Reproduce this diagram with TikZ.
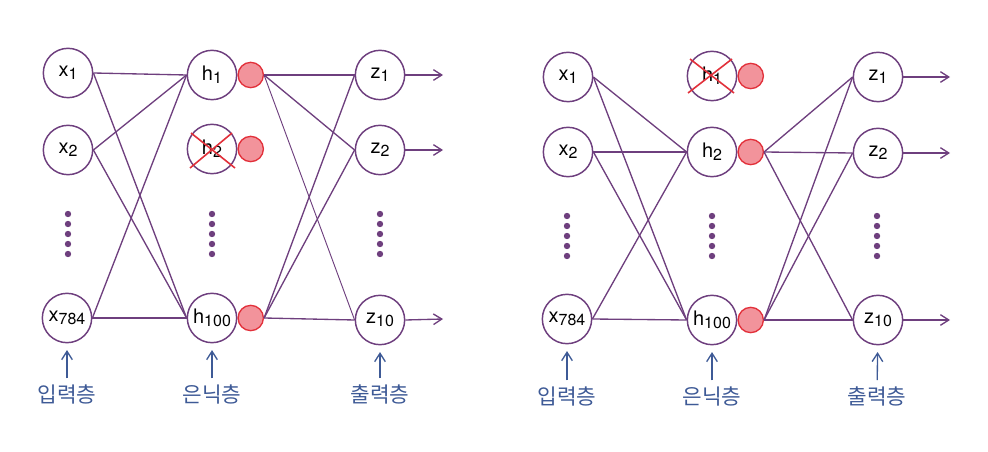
\documentclass[tikz,border=0pt]{standalone}
\usepackage{fontspec}
\setmainfont{TeX Gyre Heros}
\newfontfamily\kofont{Noto Sans CJK KR}
\usepackage{xcolor}
\usepackage{tikz}
\usetikzlibrary{arrows.meta,positioning}

\definecolor{netline}{HTML}{6E3F7E}
\definecolor{dropfill}{HTML}{F2939B}
\definecolor{dropedge}{HTML}{E2303A}
\definecolor{lblblue}{HTML}{3E5A96}

\newcommand{\unitsub}[2]{#1{\fontsize{12}{14}\selectfont\raisebox{-0.35ex}{#2}}}

\begin{document}
\begin{tikzpicture}[
  x=0.75pt, y=-0.75pt,
  font=\fontsize{15}{17}\selectfont,
  unit/.style={draw=netline, line width=1.1pt, circle, minimum size=37pt, inner sep=0pt, fill=white},
  drop/.style={draw=dropedge, line width=1pt, circle, minimum size=19pt, inner sep=0pt, fill=dropfill},
  layer/.style={text=lblblue, font=\kofont\fontsize{16}{18}\selectfont},
  wire/.style={draw=netline, line width=1pt},
  outarr/.style={wire, ->},
  uparr/.style={draw=lblblue, line width=1pt, ->, shorten >=5pt, shorten <=1pt},
  cross/.style={draw=dropedge, line width=1.2pt},
  >={Straight Barb[length=2.2mm, width=2.8mm]}
]
\useasboundingbox (0,0) rectangle (988,452);

% Left network: h2 dropped
\node[unit] (lx1) at (68,73) {\unitsub{x}{1}};
\node[unit] (lx2) at (68,150) {\unitsub{x}{2}};
\node[unit] (lx784) at (67,318) {\unitsub{x}{784}};
\node[unit] (lh1) at (212,75) {\unitsub{h}{1}};
\node[unit] (lh2) at (212,149) {\unitsub{h}{2}};
\node[unit] (lh100) at (212,318) {\unitsub{h}{100}};
\node[drop, right=0pt of lh1] (ld1) {};
\node[drop, right=0pt of lh2] (ld2) {};
\node[drop, right=0pt of lh100] (ld100) {};
\node[unit] (lz1) at (380,75) {\unitsub{z}{1}};
\node[unit] (lz2) at (380,150) {\unitsub{z}{2}};
\node[unit] (lz10) at (380,320) {\unitsub{z}{10}};
\draw[cross] ([shift={(-21,-16)}]lh2.center) -- ([shift={(23,19)}]lh2.center);
\draw[cross] ([shift={(20,-16)}]lh2.center) -- ([shift={(-22,19)}]lh2.center);
\foreach \k in {0,...,4} {
  \fill[netline] (68,214+\k*10) circle (2.4pt);
  \fill[netline] (212,214+\k*10) circle (2.4pt);
  \fill[netline] (380,214+\k*10) circle (2.4pt);
}
\draw[wire] (lx1.east) -- (lh1.west);
\draw[wire] (lx1.east) -- (lh100.west);
\draw[wire] (lx2.east) -- (lh1.west);
\draw[wire] (lx2.east) -- (lh100.west);
\draw[wire] (lx784.east) -- (lh1.west);
\draw[wire] (lx784.east) -- (lh100.west);
\draw[wire] (ld1.east) -- (lz1.west);
\draw[wire] (ld1.east) -- (lz2.west);
\draw[wire, line width=0.7pt] (ld1.east) -- (lz10.west);
\draw[wire] (ld100.east) -- (lz1.west);
\draw[wire] (ld100.east) -- (lz2.west);
\draw[wire] (ld100.east) -- (lz10.west);
\coordinate (lo1) at (443,75);
\coordinate (lo2) at (443,150);
\coordinate (lo10) at (443,319);
\draw[outarr] (lz1.east) -- (lo1);
\draw[outarr] (lz2.east) -- (lo2);
\draw[outarr] (lz10.east) -- (lo10);
\node[layer] (lin) at (67,394) {입력층};
\node[layer] (lhid) at (212,394) {은닉층};
\node[layer] (lout) at (380,394) {출력층};
\draw[uparr] (lin) -- (lx784);
\draw[uparr] (lhid) -- (lh100);
\draw[uparr] (lout) -- (lz10);

% Right network: h1 dropped
\node[unit] (rx1) at (568,77) {\unitsub{x}{1}};
\node[unit] (rx2) at (568,152) {\unitsub{x}{2}};
\node[unit] (rx784) at (567,319) {\unitsub{x}{784}};
\node[unit] (rh1) at (712,76) {\unitsub{h}{1}};
\node[unit] (rh2) at (712,152) {\unitsub{h}{2}};
\node[unit] (rh100) at (712,320) {\unitsub{h}{100}};
\node[drop, right=0pt of rh1] (rd1) {};
\node[drop, right=0pt of rh2] (rd2) {};
\node[drop, right=0pt of rh100] (rd100) {};
\node[unit] (rz1) at (878,77) {\unitsub{z}{1}};
\node[unit] (rz2) at (878,153) {\unitsub{z}{2}};
\node[unit] (rz10) at (878,320) {\unitsub{z}{10}};
\draw[cross] ([shift={(-22,-17)}]rh1.center) -- ([shift={(22,17)}]rh1.center);
\draw[cross] ([shift={(20,-17)}]rh1.center) -- ([shift={(-24,17)}]rh1.center);
\foreach \k in {0,...,4} {
  \fill[netline] (567,216+\k*10) circle (2.4pt);
  \fill[netline] (712,216+\k*10) circle (2.4pt);
  \fill[netline] (877,216+\k*10) circle (2.4pt);
}
\draw[wire] (rx1.east) -- (rh2.west);
\draw[wire] (rx1.east) -- (rh100.west);
\draw[wire] (rx2.east) -- (rh2.west);
\draw[wire] (rx2.east) -- (rh100.west);
\draw[wire] (rx784.east) -- (rh2.west);
\draw[wire] (rx784.east) -- (rh100.west);
\draw[wire] (rd2.east) -- (rz1.west);
\draw[wire] (rd2.east) -- (rz2.west);
\draw[wire] (rd2.east) -- (rz10.west);
\draw[wire] (rd100.east) -- (rz1.west);
\draw[wire] (rd100.east) -- (rz2.west);
\draw[wire] (rd100.east) -- (rz10.west);
\coordinate (ro1) at (950,77);
\coordinate (ro2) at (950,153);
\coordinate (ro10) at (950,320);
\draw[outarr] (rz1.east) -- (ro1);
\draw[outarr] (rz2.east) -- (ro2);
\draw[outarr] (rz10.east) -- (ro10);
\node[layer] (rin) at (567,396) {입력층};
\node[layer] (rhid) at (712,396) {은닉층};
\node[layer] (rout) at (877,396) {출력층};
\draw[uparr] (rin) -- (rx784);
\draw[uparr] (rhid) -- (rh100);
\draw[uparr] (rout) -- (rz10);
\end{tikzpicture}
\end{document}
